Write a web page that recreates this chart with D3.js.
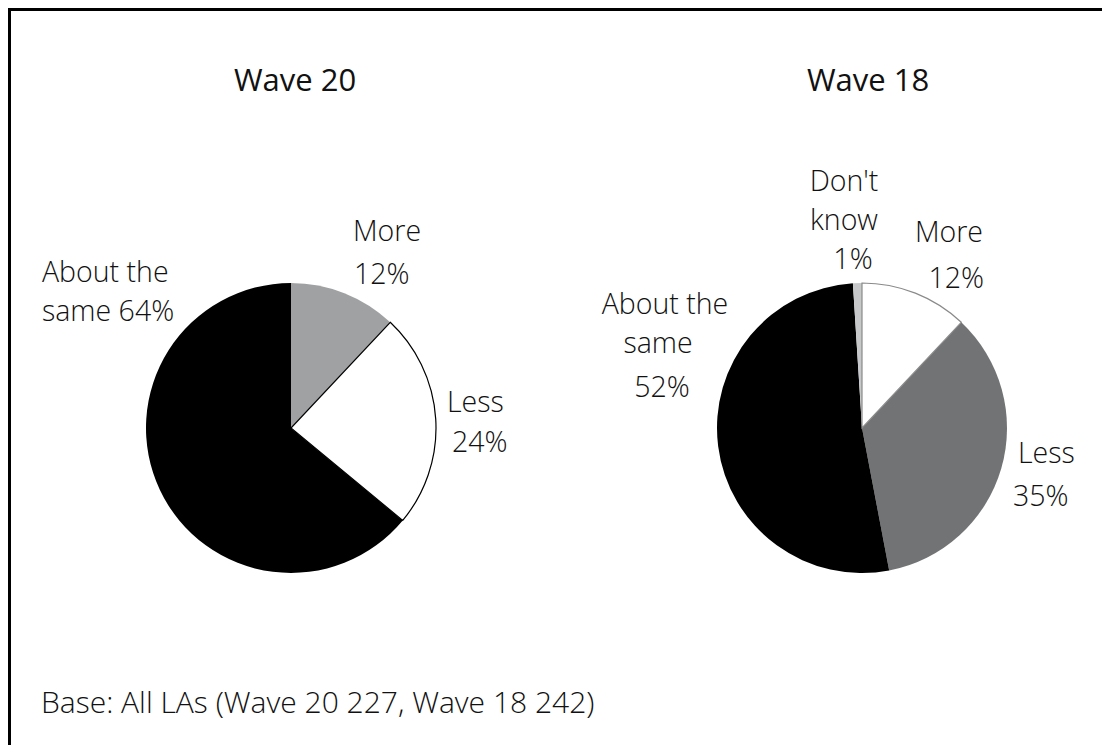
<!DOCTYPE html>
<html>
<head>
<meta charset="utf-8">
<script src="https://cdn.jsdelivr.net/npm/d3@7"></script>
<style>
	body { margin: 0; background: #fff; }
	svg { display: block; font-family: "Open Sans", "Noto Sans", sans-serif; }
</style>
</head>
<body>
<div id="chart"></div>
<script>
// Data
const waveTitles = ["Wave 20", "Wave 18"];
const wave20Categories = ["More", "Less", "About the same"];
const wave20Values = [12, 24, 64];
const wave18Categories = ["More", "Less", "About the same", "Don't know"];
const wave18Values = [12, 35, 52, 1];
const baseNote = "Base: All LAs (Wave 20 227, Wave 18 242)";

// Slice styles per wave (fill, stroke)
const wave20Styles = [
	{ fill: "#a0a1a3", stroke: "none" },
	{ fill: "#ffffff", stroke: "#000000" },
	{ fill: "#000000", stroke: "none" }
];
const wave18Styles = [
	{ fill: "#ffffff", stroke: "#8a8a8a" },
	{ fill: "#727375", stroke: "none" },
	{ fill: "#000000", stroke: "none" },
	{ fill: "#c7c8ca", stroke: "none" }
];

// Label layout: lines ({v} = value), anchor point and text-anchor
const wave20Labels = [
	{ lines: ["More", "{v}%"], x: [353, 354], y: [241, 284], anchor: "start" },
	{ lines: ["Less", "{v}%"], x: [447, 452], y: [412, 452], anchor: "start" },
	{ lines: ["About the", "same {v}%"], x: [42, 42], y: [282, 321], anchor: "start" }
];
const wave18Labels = [
	{ lines: ["More", "{v}%"], x: [983, 984], y: [242, 288], anchor: "end" },
	{ lines: ["Less", "{v}%"], x: [1018, 1013], y: [463, 506], anchor: "start" },
	{ lines: ["About the", "same", "{v}%"], x: [665, 658, 662], y: [314, 353, 397], anchor: "middle" },
	{ lines: ["Don't", "know", "{v}%"], x: [844, 844, 853], y: [191, 230, 269], anchor: "middle" }
];

const width = 1102, height = 745;
const radius = 145;

const svg = d3.select("#chart").append("svg")
	.attr("width", width)
	.attr("height", height);

// frame (top and left edges only, as in the reference)
svg.append("path")
	.attr("d", "M9.5,745 V9.5 H1102")
	.attr("fill", "none")
	.attr("stroke", "#000")
	.attr("stroke-width", 3);

const pies = [
	{ title: waveTitles[0], cats: wave20Categories, vals: wave20Values, styles: wave20Styles, labels: wave20Labels, cx: 291, cy: 428, tx: 295 },
	{ title: waveTitles[1], cats: wave18Categories, vals: wave18Values, styles: wave18Styles, labels: wave18Labels, cx: 862, cy: 428, tx: 868 }
];

const pie = d3.pie().sort(null).value(d => d.value);
const arc = d3.arc().innerRadius(0).outerRadius(radius);

pies.forEach(p => {
	const data = p.cats.map((c, i) => ({ cat: c, value: p.vals[i], style: p.styles[i], label: p.labels[i] }));

	svg.append("text")
		.attr("x", p.tx)
		.attr("y", 91)
		.attr("text-anchor", "middle")
		.style("font-size", "31px")
		.style("font-weight", "500")
		.attr("fill", "#111")
		.text(p.title);

	const g = svg.append("g")
		.attr("transform", `translate(${p.cx},${p.cy})`);

	// draw filled slices first, then stroked ones on top
	const arcs = pie(data);
	const order = arcs.slice().sort((a, b) => (a.data.style.stroke === "none" ? 0 : 1) - (b.data.style.stroke === "none" ? 0 : 1));

	g.selectAll("path.slice")
		.data(order)
		.enter()
		.append("path")
		.attr("class", "slice")
		.attr("d", arc)
		.attr("fill", d => d.data.style.fill)
		.attr("stroke", d => d.data.style.stroke)
		.attr("stroke-width", 1.2);

	data.forEach(d => {
		d.label.lines.forEach((line, j) => {
			svg.append("text")
				.attr("x", d.label.x[j])
				.attr("y", d.label.y[j])
				.attr("text-anchor", d.label.anchor)
				.style("font-size", "28.5px")
				.style("font-weight", "300")
				.attr("fill", "#111")
				.text(line.replace("{v}", d.value));
		});
	});
});

svg.append("text")
	.attr("x", 41)
	.attr("y", 713)
	.style("font-size", "30px")
	.style("font-weight", "300")
	.attr("fill", "#111")
	.text(baseNote);
</script>
</body>
</html>
